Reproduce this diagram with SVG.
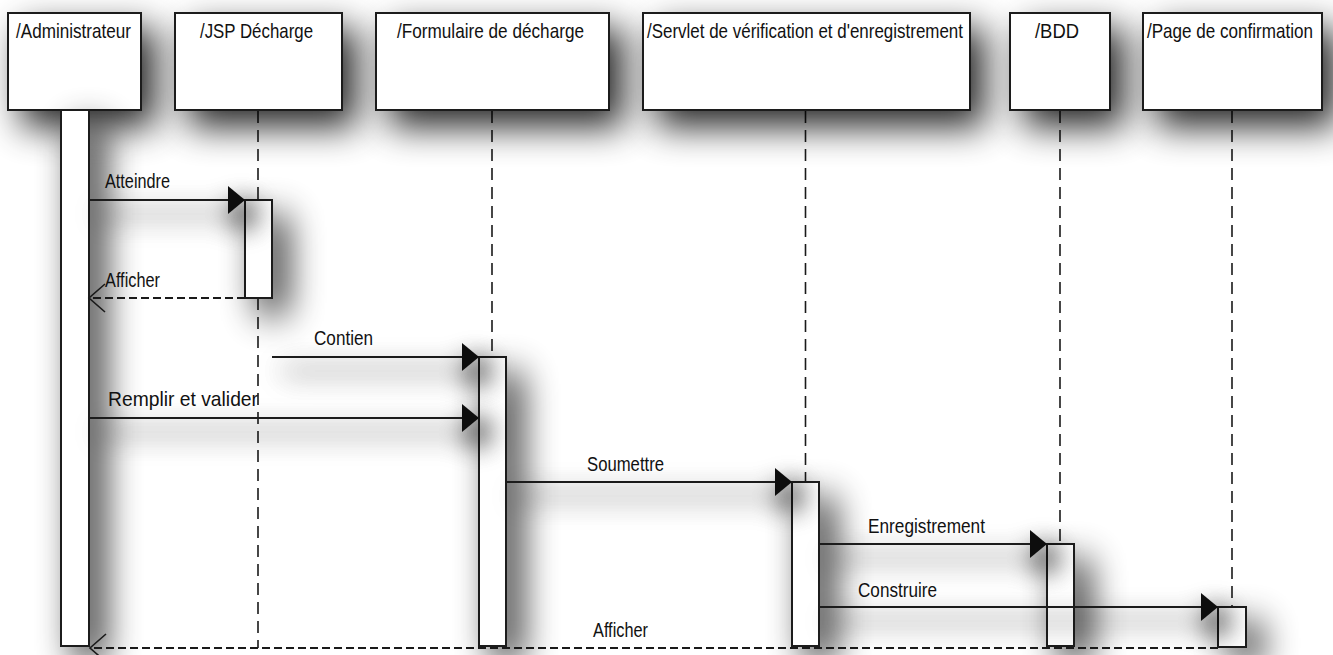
<svg xmlns="http://www.w3.org/2000/svg" width="1333" height="655" viewBox="0 0 1333 655">
  <style>
    .box { fill: #ffffff; stroke: #1a1a1a; stroke-width: 2; }
    .act { fill: #ffffff; stroke: #1a1a1a; stroke-width: 2; }
    .life { fill: none; stroke: #1a1a1a; stroke-width: 1.6; stroke-dasharray: 12 7; }
    .msg { fill: none; stroke: #1a1a1a; stroke-width: 2; }
    .ret { fill: none; stroke: #1a1a1a; stroke-width: 2; stroke-dasharray: 8 4; }
    .t { font-family: "Liberation Sans", Arial, sans-serif; font-size: 21px; fill: #111111; }
  </style>
  <defs>
    <!-- soft drop shadow shared by boxes and activation bars -->
    <filter id="shadow" filterUnits="userSpaceOnUse" x="-80" y="-80" width="1493" height="815">
      <feGaussianBlur in="SourceAlpha" stdDeviation="18"/>
      <feOffset dx="14" dy="16" result="off"/>
      <feComponentTransfer>
        <feFuncA type="linear" slope="0.85"/>
      </feComponentTransfer>
      <feMerge>
        <feMergeNode/>
        <feMergeNode in="SourceGraphic"/>
      </feMerge>
    </filter>
    <!-- lighter shadow for message lines -->
    <filter id="lineShadow" filterUnits="userSpaceOnUse" x="-80" y="-80" width="1493" height="815">
      <feGaussianBlur in="SourceAlpha" stdDeviation="14"/>
      <feOffset dx="10" dy="14" result="off"/>
      <feComponentTransfer>
        <feFuncA type="linear" slope="1.8"/>
      </feComponentTransfer>
      <feMerge>
        <feMergeNode/>
        <feMergeNode in="SourceGraphic"/>
      </feMerge>
    </filter>
    <marker id="filled" markerUnits="userSpaceOnUse" markerWidth="20" markerHeight="30" refX="0" refY="0" orient="auto" overflow="visible">
      <path d="M-17,-14 L0,0 L-17,14 Z" fill="#111111"/>
    </marker>
    <marker id="open" markerUnits="userSpaceOnUse" markerWidth="20" markerHeight="30" refX="0" refY="0" orient="auto" overflow="visible">
      <path d="M-16,-14 L0,0 L-16,14" fill="none" stroke="#1a1a1a" stroke-width="1.6"/>
    </marker>
  </defs>

  <rect x="0" y="0" width="1333" height="655" fill="#ffffff"/>

  <!-- lifelines (dashed) -->
  <g id="lifelines">
    <line class="life" x1="258" y1="111" x2="258" y2="200"/>
    <line class="life" x1="258" y1="298" x2="258" y2="648"/>
    <line class="life" x1="492" y1="111" x2="492" y2="357"/>
    <line class="life" x1="805.5" y1="111" x2="805.5" y2="482"/>
    <line class="life" x1="1060" y1="111" x2="1060" y2="544"/>
    <line class="life" x1="1232" y1="111" x2="1232" y2="607"/>
  </g>

  <!-- participants -->
  <g id="administrateur">
    <rect class="box" x="8" y="13" width="133" height="97" filter="url(#shadow)"/>
    <rect class="act" x="61" y="110" width="28" height="536" filter="url(#shadow)"/>
    <text class="t" x="16" y="38" textLength="115" lengthAdjust="spacingAndGlyphs">/Administrateur</text>
  </g>
  <g id="jsp-decharge">
    <rect class="box" x="175" y="13" width="167" height="97" filter="url(#shadow)"/>
    <rect class="act" x="245" y="200" width="27" height="98" filter="url(#shadow)"/>
    <text class="t" x="200" y="38" textLength="113" lengthAdjust="spacingAndGlyphs">/JSP Décharge</text>
  </g>
  <g id="formulaire">
    <rect class="box" x="376" y="13" width="233" height="97" filter="url(#shadow)"/>
    <rect class="act" x="479" y="357" width="27" height="289" filter="url(#shadow)"/>
    <text class="t" x="397" y="38" textLength="187" lengthAdjust="spacingAndGlyphs">/Formulaire de décharge</text>
  </g>
  <g id="servlet">
    <rect class="box" x="643" y="13" width="327" height="97" filter="url(#shadow)"/>
    <rect class="act" x="792" y="482" width="27" height="164" filter="url(#shadow)"/>
    <text class="t" x="647" y="38" textLength="316" lengthAdjust="spacingAndGlyphs">/Servlet de vérification et d'enregistrement</text>
  </g>
  <g id="bdd">
    <rect class="box" x="1010" y="13" width="100" height="97" filter="url(#shadow)"/>
    <rect class="act" x="1047" y="544" width="27" height="102" filter="url(#shadow)"/>
    <text class="t" x="1035" y="38" textLength="44" lengthAdjust="spacingAndGlyphs">/BDD</text>
  </g>
  <g id="page-confirmation">
    <rect class="box" x="1143" y="13" width="179" height="97" filter="url(#shadow)"/>
    <rect class="act" x="1218" y="607" width="28" height="40" filter="url(#shadow)"/>
    <text class="t" x="1147" y="38" textLength="166" lengthAdjust="spacingAndGlyphs">/Page de confirmation</text>
  </g>

  <!-- messages -->
  <g id="connectors">
    <line class="msg" x1="89" y1="200" x2="245" y2="200" marker-end="url(#filled)" filter="url(#lineShadow)"/>
    <text class="t" x="105" y="188" textLength="65" lengthAdjust="spacingAndGlyphs">Atteindre</text>

    <line class="ret" x1="245" y1="298" x2="89" y2="298" marker-end="url(#open)"/>
    <text class="t" x="105" y="287" textLength="55" lengthAdjust="spacingAndGlyphs">Afficher</text>

    <line class="msg" x1="272" y1="357" x2="479" y2="357" marker-end="url(#filled)" filter="url(#lineShadow)"/>
    <text class="t" x="314" y="345" textLength="59" lengthAdjust="spacingAndGlyphs">Contien</text>

    <line class="msg" x1="89" y1="418" x2="479" y2="418" marker-end="url(#filled)" filter="url(#lineShadow)"/>
    <text class="t" x="108" y="406" textLength="150" lengthAdjust="spacingAndGlyphs">Remplir et valider</text>

    <line class="msg" x1="506" y1="482" x2="792" y2="482" marker-end="url(#filled)" filter="url(#lineShadow)"/>
    <text class="t" x="587" y="471" textLength="77" lengthAdjust="spacingAndGlyphs">Soumettre</text>

    <line class="msg" x1="819" y1="544" x2="1047" y2="544" marker-end="url(#filled)" filter="url(#lineShadow)"/>
    <text class="t" x="868" y="533" textLength="117" lengthAdjust="spacingAndGlyphs">Enregistrement</text>

    <line class="msg" x1="819" y1="607" x2="1218" y2="607" marker-end="url(#filled)" filter="url(#lineShadow)"/>
    <text class="t" x="858" y="597" textLength="79" lengthAdjust="spacingAndGlyphs">Construire</text>

    <line class="ret" x1="1218" y1="648" x2="90" y2="648" marker-end="url(#open)"/>
    <text class="t" x="593" y="637" textLength="55" lengthAdjust="spacingAndGlyphs">Afficher</text>
  </g>
</svg>
